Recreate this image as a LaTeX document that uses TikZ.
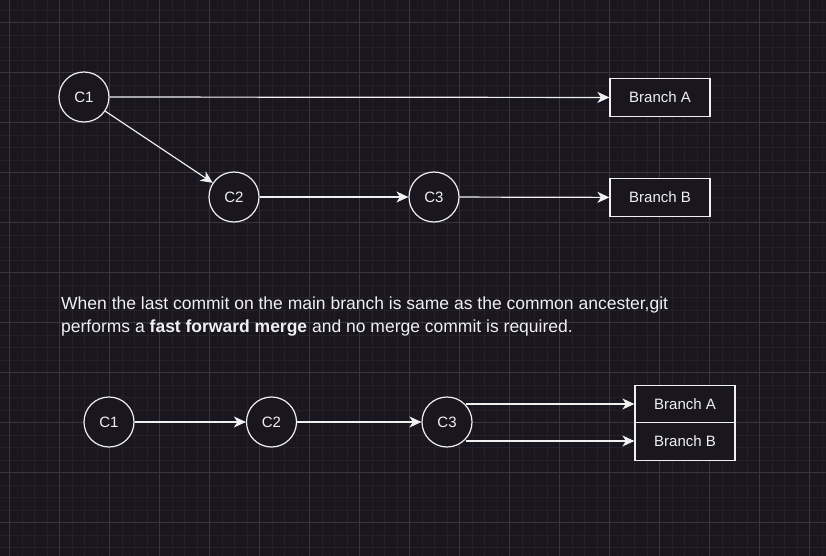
\documentclass[tikz,border=0pt]{standalone}
\usepackage{fontspec}
\setmainfont{Liberation Sans}
\usetikzlibrary{arrows.meta}
\definecolor{bg}{RGB}{25,22,31}
\definecolor{gminor}{RGB}{35,32,40}
\definecolor{gmajor}{RGB}{56,53,61}
\definecolor{fg}{RGB}{240,240,240}
\begin{document}
\begin{tikzpicture}[x=1pt,y=-1pt,
  commit/.style={circle,draw=fg,line width=1.2pt,fill=bg,minimum size=50pt,inner sep=0pt,text=fg,font=\fontsize{15}{17}\selectfont},
  branchbox/.style={rectangle,draw=fg,line width=1.2pt,fill=bg,minimum width=100pt,minimum height=37.5pt,inner sep=0pt,text=fg,font=\fontsize{15}{17}\selectfont},
  conn/.style={draw=fg,line width=1.2pt,-{Stealth[length=12pt,width=11pt,inset=3.5pt]}}]
\fill[bg] (0,0) rectangle (826,556);
\useasboundingbox (0,0) rectangle (826,556);
% grid
\foreach \i in {0,...,66} {\draw[gminor,line width=0.8pt] ({9.5+12.5*\i},0) -- ({9.5+12.5*\i},556);}
\foreach \i in {0,...,44} {\draw[gminor,line width=0.8pt] (0,{10+12.5*\i}) -- (826,{10+12.5*\i});}
\foreach \i in {0,...,16} {\draw[gmajor,line width=0.9pt] ({9.5+50*\i},0) -- ({9.5+50*\i},556);}
\foreach \i in {0,...,11} {\draw[gmajor,line width=0.9pt] (0,{22.5+50*\i}) -- (826,{22.5+50*\i});}
% top diagram
\node[commit] (t1) at (84,97) {C1};
\node[commit] (t2) at (234,197) {C2};
\node[commit] (t3) at (434,197) {C3};
\node[branchbox] (ta) at (660,97.5) {Branch A};
\node[branchbox] (tb) at (660,197.5) {Branch B};
\draw[conn] (t1) -- (ta);
\draw[conn] (t1) -- (t2);
\draw[conn] (t2) -- (t3);
\draw[conn] (t3) -- (tb);
% text
\node[anchor=west,text=fg,font=\fontsize{17.5}{23}\selectfont,align=left,inner sep=0pt] (txt) at (61,317)
 {When the last commit on the main branch is same as the common ancester,git\\performs a \textbf{fast forward merge} and no merge commit is required.};
% bottom diagram
\node[commit] (b1) at (109,422) {C1};
\node[commit] (b2) at (271.5,422) {C2};
\node[commit] (b3) at (447,422) {C3};
\node[branchbox] (ba) at (685,404) {Branch A};
\node[branchbox] (bb) at (685,441.5) {Branch B};
\draw[conn] (b1) -- (b2);
\draw[conn] (b2) -- (b3);
\coordinate (s1) at (466,404);
\coordinate (s2) at (466,441);
\draw[conn] (s1) -- (ba.west);
\draw[conn] (s2) -- (bb.west |- s2);
\end{tikzpicture}
\end{document}
